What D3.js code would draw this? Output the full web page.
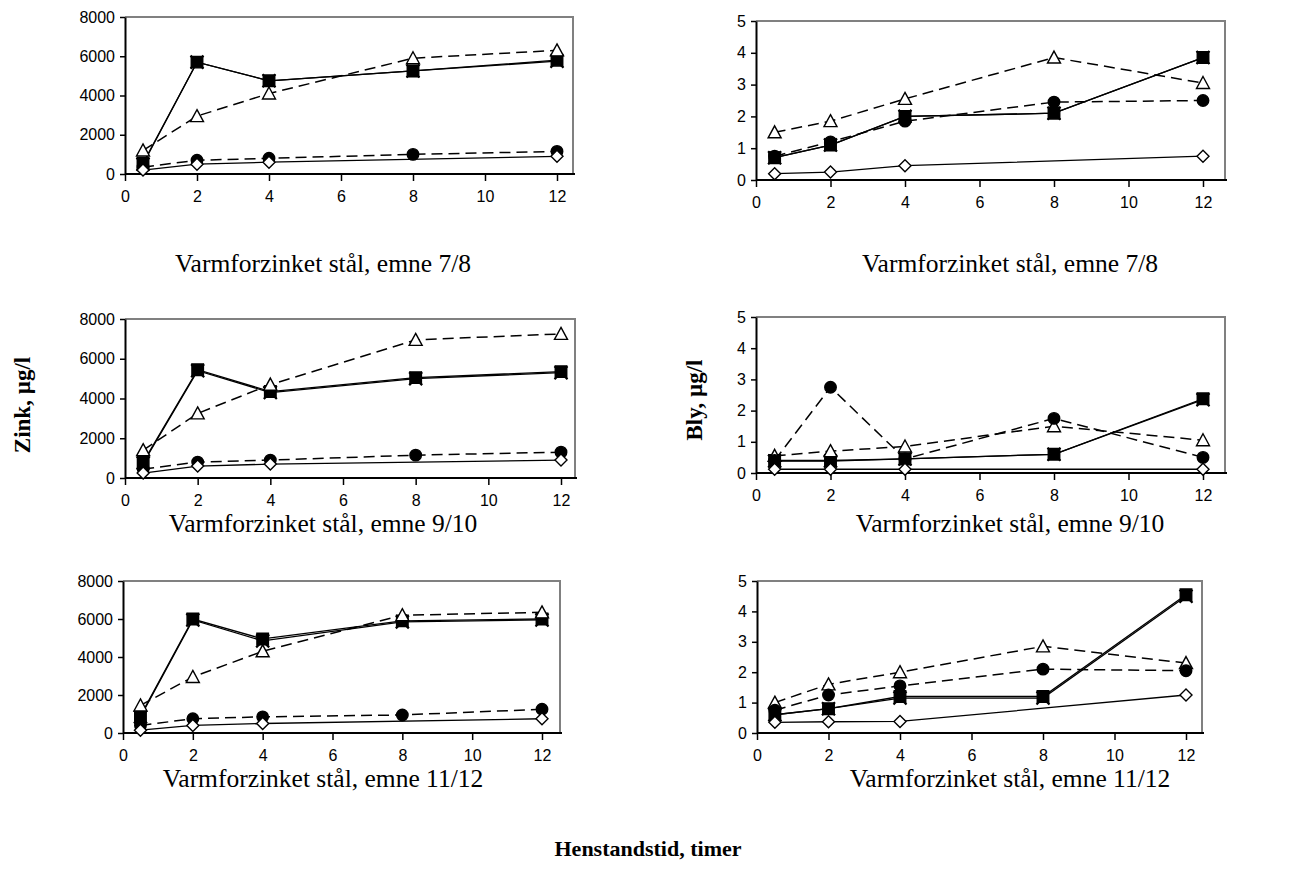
<!DOCTYPE html>
<html><head><meta charset="utf-8">
<script src="https://cdn.jsdelivr.net/npm/d3@7"></script>
<style>
  body { margin: 0; background: #fff; }
  svg { display: block; }
</style>
</head><body>
<svg id="chart" width="1298" height="880"></svg>
<script>
// Sampling times (hours) and axis ticks
const times = [0.5, 2, 4, 8, 12];
const xTicks = [0, 2, 4, 6, 8, 10, 12];
const zinkTicks = [0, 2000, 4000, 6000, 8000];
const blyTicks = [0, 1, 2, 3, 4, 5];

const panelTitles = [
  "Varmforzinket stål, emne 7/8", "Varmforzinket stål, emne 7/8",
  "Varmforzinket stål, emne 9/10", "Varmforzinket stål, emne 9/10",
  "Varmforzinket stål, emne 11/12", "Varmforzinket stål, emne 11/12"
];
const zinkLabel = "Zink, µg/l";
const blyLabel = "Bly, µg/l";
const timeLabel = "Henstandstid, timer";

// Zink, emne 7/8 (µg/l); null = not measured
const zn78Cross    = [500, 5700, 4750, 5250, 5750];
const zn78Square   = [550, 5700, 4750, 5250, 5800];
const zn78Triangle = [1200, 2950, 4100, 5900, 6300];
const zn78Circle   = [350, 700, 800, 1000, 1150];
const zn78Diamond  = [200, 500, 600, null, 900];

// Bly, emne 7/8
const pb78Cross    = [0.7, 1.1, 2.0, 2.1, 3.85];
const pb78Square   = [0.7, 1.1, 2.0, 2.1, 3.85];
const pb78Triangle = [1.5, 1.85, 2.55, 3.85, 3.05];
const pb78Circle   = [0.75, 1.2, 1.85, 2.45, 2.5];
const pb78Diamond  = [0.2, 0.25, 0.45, null, 0.75];

// Zink, emne 9/10
const zn910Cross    = [750, 5400, 4300, 5000, 5300];
const zn910Square   = [800, 5450, 4350, 5050, 5350];
const zn910Triangle = [1400, 3250, 4700, 6950, 7250];
const zn910Circle   = [450, 800, 900, 1150, 1300];
const zn910Diamond  = [250, 600, 700, null, 900];

// Bly, emne 9/10
const pb910Cross    = [0.38, 0.38, 0.45, 0.6, 2.35];
const pb910Square   = [0.4, 0.4, 0.45, 0.6, 2.38];
const pb910Triangle = [0.55, 0.7, 0.85, 1.5, 1.05];
const pb910Circle   = [0.4, 2.75, 0.45, 1.75, 0.5];
const pb910Diamond  = [0.12, 0.12, 0.12, null, 0.12];

// Zink, emne 11/12
const zn1112Cross    = [850, 5950, 4850, 5850, 5950];
const zn1112Square   = [900, 6000, 4950, 5900, 6000];
const zn1112Triangle = [1450, 2950, 4300, 6200, 6350];
const zn1112Circle   = [400, 750, 850, 950, 1250];
const zn1112Diamond  = [150, 400, 500, null, 750];

// Bly, emne 11/12
const pb1112Cross    = [0.6, 0.8, 1.15, 1.15, 4.5];
const pb1112Square   = [0.6, 0.8, 1.2, 1.2, 4.55];
const pb1112Triangle = [1.0, 1.6, 2.0, 2.85, 2.3];
const pb1112Circle   = [0.75, 1.25, 1.55, 2.1, 2.05];
const pb1112Diamond  = [0.35, 0.37, 0.38, null, 1.25];

// Series styling, in drawing order
const seriesStyles = [
  { key: "cross",    marker: "cross",    fill: "none", dash: null,   size: 13 },
  { key: "square",   marker: "square",   fill: "#000", dash: null,   size: 11.5 },
  { key: "triangle", marker: "triangle", fill: "#fff", dash: "11,6", size: 13 },
  { key: "circle",   marker: "circle",   fill: "#000", dash: "11,6", size: 11.5 },
  { key: "diamond",  marker: "diamond",  fill: "#fff", dash: null,   size: 12 }
];

const panels = [
  { ticks: zinkTicks, title: panelTitles[0],
    series: { cross: zn78Cross, square: zn78Square, triangle: zn78Triangle, circle: zn78Circle, diamond: zn78Diamond } },
  { ticks: blyTicks, title: panelTitles[1],
    series: { cross: pb78Cross, square: pb78Square, triangle: pb78Triangle, circle: pb78Circle, diamond: pb78Diamond } },
  { ticks: zinkTicks, title: panelTitles[2],
    series: { cross: zn910Cross, square: zn910Square, triangle: zn910Triangle, circle: zn910Circle, diamond: zn910Diamond } },
  { ticks: blyTicks, title: panelTitles[3],
    series: { cross: pb910Cross, square: pb910Square, triangle: pb910Triangle, circle: pb910Circle, diamond: pb910Diamond } },
  { ticks: zinkTicks, title: panelTitles[4],
    series: { cross: zn1112Cross, square: zn1112Square, triangle: zn1112Triangle, circle: zn1112Circle, diamond: zn1112Diamond } },
  { ticks: blyTicks, title: panelTitles[5],
    series: { cross: pb1112Cross, square: pb1112Square, triangle: pb1112Triangle, circle: pb1112Circle, diamond: pb1112Diamond } }
];

// Plot-area geometry for each panel: x pixel at t=0 and t=12, right edge, y pixel at 0 and at max tick
const layout = [
  { x0: 125, x12: 557,  right: 573,  yBottom: 174, yTop: 17,  titleX: 323,  titleY: 263 },
  { x0: 756, x12: 1203, right: 1225, yBottom: 180, yTop: 21,  titleX: 1010, titleY: 263 },
  { x0: 125, x12: 561,  right: 575,  yBottom: 478, yTop: 319, titleX: 323,  titleY: 523 },
  { x0: 756, x12: 1203, right: 1225, yBottom: 473, yTop: 317, titleX: 1010, titleY: 523 },
  { x0: 123, x12: 542,  right: 560,  yBottom: 733, yTop: 581, titleX: 323,  titleY: 778 },
  { x0: 757, x12: 1186, right: 1202, yBottom: 733, yTop: 581, titleX: 1010, titleY: 778 }
];

const svg = d3.select("#chart");
const tickFont = "'Liberation Sans', Arial, sans-serif";
const serifFont = "'Liberation Serif', 'Times New Roman', serif";

function markerPath(type, s) {
  const h = s / 2;
  switch (type) {
    case "square":   return `M${-h},${-h}H${h}V${h}H${-h}Z`;
    case "triangle": return `M0,${-h}L${h},${h - 1}L${-h},${h - 1}Z`;
    case "diamond":  return `M0,${-h}L${h},0L0,${h}L${-h},0Z`;
    case "cross":    return `M${-h},${-h}L${h},${h}M${h},${-h}L${-h},${h}`;
    default:         return d3.symbol(d3.symbolCircle, Math.PI * h * h)();
  }
}

panels.forEach((p, i) => {
  const L = layout[i];
  const yMax = p.ticks[p.ticks.length - 1];
  const x = d3.scaleLinear().domain([0, 12]).range([L.x0, L.x12]);
  const y = d3.scaleLinear().domain([0, yMax]).range([L.yBottom, L.yTop]);
  const g = svg.append("g");

  // plot-area frame (top and right sides in grey)
  g.append("path")
    .attr("d", `M${L.x0},${L.yTop}H${L.right}V${L.yBottom}`)
    .attr("fill", "none").attr("stroke", "#808080").attr("stroke-width", 2);

  // x axis
  const xAxis = g.append("g").attr("transform", `translate(0,${L.yBottom})`)
    .call(d3.axisBottom(x).tickValues(xTicks).tickFormat(d3.format("d"))
      .tickSize(7).tickPadding(10).tickSizeOuter(0));
  xAxis.select(".domain").remove();
  xAxis.append("line").attr("x1", L.x0).attr("x2", L.right + 2)
    .attr("stroke", "#000").attr("stroke-width", 2);

  // y axis
  const yAxis = g.append("g").attr("transform", `translate(${L.x0},0)`)
    .call(d3.axisLeft(y).tickValues(p.ticks).tickFormat(d3.format("d"))
      .tickSize(5).tickPadding(5).tickSizeOuter(0));
  yAxis.select(".domain").attr("stroke-width", 2);

  [xAxis, yAxis].forEach(a => {
    a.selectAll(".tick line").attr("stroke", "#000").attr("stroke-width", 1.5);
    a.selectAll("text").attr("font-family", tickFont).attr("font-size", "16px").attr("fill", "#000");
  });

  // series lines
  const line = d3.line().x(d => x(d.t)).y(d => y(d.v));
  seriesStyles.forEach(s => {
    const pts = times.map((t, k) => ({ t, v: p.series[s.key][k] })).filter(d => d.v != null);
    g.append("path").datum(pts).attr("d", line)
      .attr("fill", "none").attr("stroke", "#000")
      .attr("stroke-width", s.dash ? 1.5 : 1.3)
      .attr("stroke-dasharray", s.dash);
  });

  // series markers
  seriesStyles.forEach(s => {
    const pts = times.map((t, k) => ({ t, v: p.series[s.key][k] })).filter(d => d.v != null);
    g.selectAll(null).data(pts).enter().append("path")
      .attr("transform", d => `translate(${x(d.t)},${y(d.v)})`)
      .attr("d", markerPath(s.marker, s.size))
      .attr("fill", s.fill)
      .attr("stroke", "#000")
      .attr("stroke-width", s.marker === "cross" ? 2.2 : 1.4);
  });

  // panel title
  svg.append("text").attr("x", L.titleX).attr("y", L.titleY).attr("dy", "0.35em")
    .attr("text-anchor", "middle").attr("font-family", serifFont).attr("font-size", "25.5px")
    .text(p.title);
});

// axis titles
svg.append("text").attr("transform", "translate(22,405) rotate(-90)").attr("dy", "0.35em")
  .attr("text-anchor", "middle").attr("font-family", serifFont).attr("font-weight", "bold")
  .attr("font-size", "23px").text(zinkLabel);
svg.append("text").attr("transform", "translate(694,400) rotate(-90)").attr("dy", "0.35em")
  .attr("text-anchor", "middle").attr("font-family", serifFont).attr("font-weight", "bold")
  .attr("font-size", "23px").text(blyLabel);
svg.append("text").attr("x", 648).attr("y", 848).attr("dy", "0.35em")
  .attr("text-anchor", "middle").attr("font-family", serifFont).attr("font-weight", "bold")
  .attr("font-size", "22px").text(timeLabel);
</script>
</body></html>
